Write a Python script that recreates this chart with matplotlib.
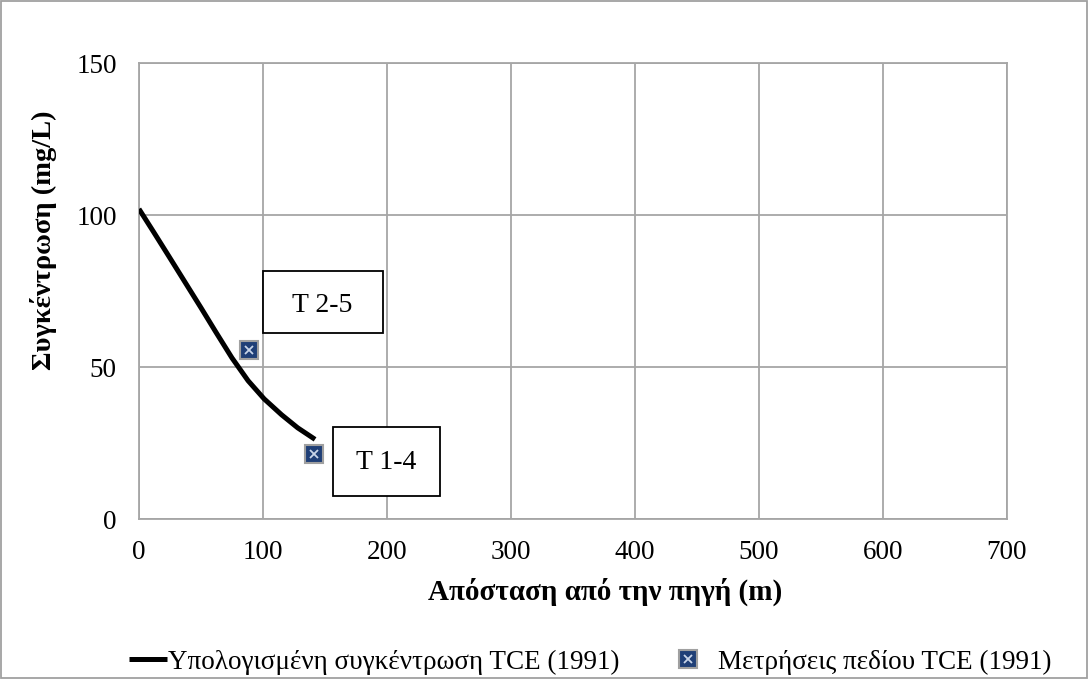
import numpy as np
import matplotlib.pyplot as plt
from matplotlib.patches import Rectangle

plt.rcParams['font.family'] = ['Liberation Serif', 'DejaVu Serif']

# computed curve
calc_x = [0, 12, 24, 37, 50, 62, 75, 88, 101, 115, 128, 142]
calc_y = [102, 94.3, 86.5, 78, 69.5, 61.5, 53, 45.5, 39.5, 34.3, 30, 26.2]

# field measurements
meas_x = [88.7, 141.4]
meas_y = [55.6, 21.3]
meas_labels = ['T 2-5', 'T 1-4']
label_pos = [(147.6, 70.2), (199.7, 18.5)]
# boxes around labels: (x0, y0, width, height) in data units
label_boxes = [(99.8, 61.3, 97.2, 20.3), (156.5, 7.5, 86.2, 22.8)]

series_names = ['Υπολογισμένη συγκέντρωση TCE (1991)', 'Μετρήσεις πεδίου TCE (1991)']

grid_col = '#A6A6A6'

fig = plt.figure(figsize=(10.89, 6.79), dpi=100)
ax = fig.add_axes([0.1276, 0.2356, 0.7971, 0.6716])

line, = ax.plot(calc_x, calc_y, color='black', lw=3.6, solid_capstyle='butt', zorder=3)
m1, = ax.plot(meas_x, meas_y, ls='none', marker='s', ms=13, mfc='#1F3F77',
              mec='#A0A0A0', mew=1.5, zorder=4)
m2, = ax.plot(meas_x, meas_y, ls='none', marker='x', ms=6, mec='#C8D4E8',
              mew=1.3, zorder=5)

for lab, (lx, ly), (bx, by, bw, bh) in zip(meas_labels, label_pos, label_boxes):
    ax.add_patch(Rectangle((bx, by), bw, bh, fc='white', ec='black', lw=1.3, zorder=5))
    ax.text(lx, ly, lab, ha='center', va='center', fontsize=20, zorder=6)

ax.set_xlim(0, 700)
ax.set_ylim(0, 150)
ax.set_xticks(np.arange(0, 701, 100))
ax.set_yticks(np.arange(0, 151, 50))
ax.grid(True, color=grid_col, lw=1.3)
ax.set_axisbelow(True)
for s in ax.spines.values():
    s.set_color(grid_col)
    s.set_linewidth(1.3)
ax.tick_params(axis='y', labelsize=19.5, length=0, pad=16)
ax.tick_params(axis='x', labelsize=19.5, length=0, pad=15)

ax.set_xlabel('Απόσταση από την πηγή (m)', fontsize=21, fontweight='bold', labelpad=8)
ax.xaxis.set_label_coords(0.537, -0.128)
ax.set_ylabel('Συγκέντρωση (mg/L)', fontsize=20.5, fontweight='bold', labelpad=14)
ax.yaxis.set_label_coords(-0.094, 0.612)

leg_kw = dict(loc='center left', frameon=False, fontsize=19.5, borderpad=0,
              borderaxespad=0, handlelength=1.4)
fig.legend([line], [series_names[0]], bbox_to_anchor=(129 / 1089, 0.025),
           handletextpad=0.05, **leg_kw)
fig.legend([(m1, m2)], [series_names[1]], bbox_to_anchor=(669 / 1089, 0.025),
           handletextpad=0.4, **leg_kw)

fig.patches.append(Rectangle((0.001, 0.001), 0.997, 0.997, transform=fig.transFigure,
                             fill=False, ec='#A0A0A0', lw=1.3))

fig.savefig('out.png', dpi=100, facecolor='white')
